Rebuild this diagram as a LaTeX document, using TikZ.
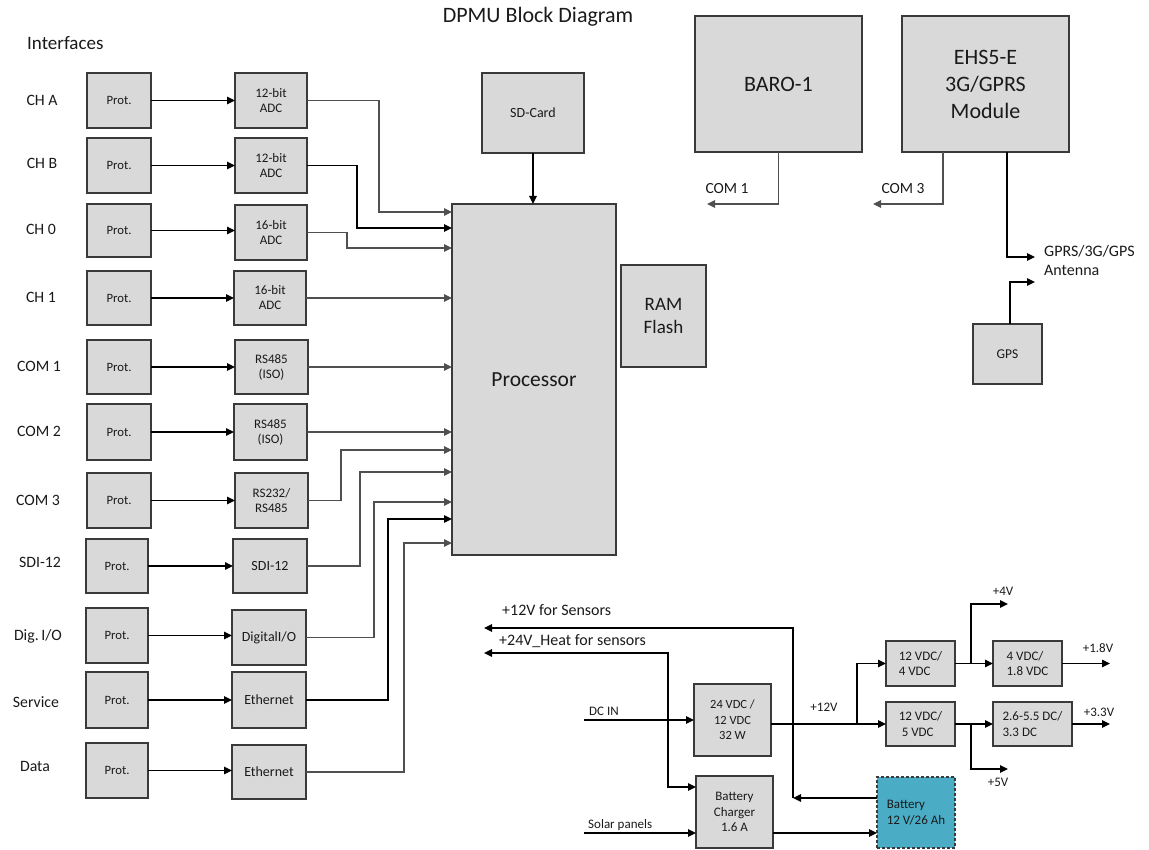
\documentclass[tikz,border=0pt]{standalone}
\usepackage{fontspec}
\setmainfont{Carlito}
\usetikzlibrary{arrows.meta}
\definecolor{boxfill}{HTML}{D9D9D9}
\definecolor{boxline}{HTML}{3A3A3A}
\definecolor{lgray}{HTML}{505050}
\definecolor{batt}{HTML}{4BACC6}
\definecolor{txt}{HTML}{1A1A1A}
\newcommand\fs[2]{\fontsize{#1}{#2}\selectfont}
\newcommand\mkbox[7][]{\node[boxst,#1,minimum width={(#5-#3)*1pt},minimum height={(#6-#4)*1pt}] (#2) at ({(#3+#5)/2},{(#4+#6)/2}) {#7};}
\begin{document}
\begin{tikzpicture}[x=1pt,y=-1pt,
  boxst/.style={draw=boxline,fill=boxfill,line width=1.3pt,inner sep=0pt,outer sep=0pt,text=txt,align=center},
  protst/.style={font=\fs{12.7}{15}},
  adcst/.style={font=\fs{13}{15}},
  ifst/.style={font=\fs{14}{16}},
  pwst/.style={font=\fs{13}{15.5}},
  lbl/.style={inner sep=0pt,text=txt,font=\fs{15.8}{18}},
  small/.style={inner sep=0pt,text=txt,font=\fs{13}{15}},
  arr/.style={-{Triangle[length=8pt,width=7.5pt]},line width=1.3pt,draw=black},
  garr/.style={arr,draw=lgray},
  barr/.style={{Triangle[length=8pt,width=7.5pt]}-{Triangle[length=8pt,width=7.5pt]},line width=1.3pt,draw=black}]
\useasboundingbox (0,0) rectangle (1149,850);

% titles
\node[inner sep=0pt,text=txt,font=\fs{22}{24}] (title) at (538,17) {DPMU Block Diagram};
\node[inner sep=0pt,text=txt,font=\fs{19}{21},anchor=west] (ifaces) at (27,43) {Interfaces};

% interface labels
\node[lbl] (lA) at (42,100) {CH A};
\node[lbl] (lB) at (42,163) {CH B};
\node[lbl] (l0) at (41,229) {CH 0};
\node[lbl] (l1) at (41,297) {CH 1};
\node[lbl] (lc1) at (39,366) {COM 1};
\node[lbl] (lc2) at (39,431) {COM 2};
\node[lbl] (lc3) at (38,500) {COM 3};
\node[lbl] (lsdi) at (40,562) {SDI-12};
\node[lbl] (ldig) at (38,636) {Dig.\,I/O};
\node[lbl] (lsvc) at (36,702) {Service};
\node[lbl] (ldat) at (35,766) {Data};

% protection boxes
\mkbox[protst]{pA}{87}{73}{151}{128}{Prot.}
\mkbox[protst]{pB}{87}{138}{151}{193}{Prot.}
\mkbox[protst]{p0}{87}{204}{151}{257}{Prot.}
\mkbox[protst]{p1}{87}{271}{151}{325}{Prot.}
\mkbox[protst]{pc1}{87}{340}{151}{394}{Prot.}
\mkbox[protst]{pc2}{87}{404}{151}{460}{Prot.}
\mkbox[protst]{pc3}{87}{473}{151}{528}{Prot.}
\mkbox[protst]{psdi}{86}{539}{148}{593}{Prot.}
\mkbox[protst]{pdig}{86}{608}{148}{663}{Prot.}
\mkbox[protst]{psvc}{86}{672}{148}{728}{Prot.}
\mkbox[protst]{pdat}{86}{743}{148}{798}{Prot.}

% interface circuits
\mkbox[adcst]{aA}{235}{73}{307}{128}{12-bit\\ADC}
\mkbox[adcst]{aB}{235}{138}{307}{193}{12-bit\\ADC}
\mkbox[adcst]{a0}{235}{205}{307}{260}{16-bit\\ADC}
\mkbox[adcst]{a1}{234}{271}{306}{325}{16-bit\\ADC}
\mkbox[adcst]{rc1}{235}{340}{308}{394}{RS485\\(ISO)}
\mkbox[adcst]{rc2}{234}{404}{307}{460}{RS485\\(ISO)}
\mkbox[adcst]{rc3}{235}{473}{308}{528}{RS232/\\RS485}
\mkbox[ifst]{sdi}{233}{539}{307}{593}{SDI-12}
\mkbox[ifst]{dig}{232}{610}{306}{665}{DigitalI/O}
\mkbox[ifst]{eth1}{232}{672}{306}{728}{Ethernet}
\mkbox[ifst]{eth2}{232}{745}{306}{799}{Ethernet}

% core
\mkbox[font=\fs{21.5}{24}]{proc}{452}{204}{616}{555}{Processor}
\mkbox[font=\fs{19}{22.5}]{ram}{621}{265}{706}{367}{RAM\\Flash}
\mkbox[font=\fs{14}{16}]{sd}{482}{73}{584}{153}{SD-Card}
\mkbox[font=\fs{22}{24}]{baro}{695}{16}{862}{152}{BARO-1}
\mkbox[font=\fs{22}{27}]{ehs}{902}{16}{1069}{152}{EHS5-E\\3G/GPRS\\Module}
\mkbox[font=\fs{13.5}{15}]{gps}{973}{324}{1042}{384}{GPS}

% prot -> circuit
\foreach \p/\a in {pA/aA,pB/aB,p0/a0,p1/a1,pc1/rc1,pc2/rc2,pc3/rc3,psdi/sdi,pdig/dig,psvc/eth1,pdat/eth2}
  \draw[arr] (\p.east) -- (\p.east -| \a.west);

% circuit -> processor
\draw[garr] (aA.east) -- ++(72,0) |- ([yshift=-8pt]proc.north west);
\draw[arr] (aB.east) -- ++(50,0) |- ([yshift=-24pt]proc.north west);
\draw[garr] (a0.east) -- ++(40,0) |- ([yshift=-44pt]proc.north west);
\draw[garr] (a1.east) -- (a1.east -| proc.west);
\draw[garr] (rc1.east) -- (rc1.east -| proc.west);
\draw[garr] (rc2.east) -- (rc2.east -| proc.west);
\draw[garr] (rc3.east) -- ++(33,0) |- ([yshift=-246pt]proc.north west);
\draw[garr] (sdi.east) -- ++(53,0) |- ([yshift=-268pt]proc.north west);
\draw[garr] (dig.east) -- ++(68,0) |- ([yshift=-298pt]proc.north west);
\draw[arr] (eth1.east) -- ++(82,0) |- ([yshift=-315pt]proc.north west);
\draw[garr] (eth2.east) -- ++(98,0) |- ([yshift=-339pt]proc.north west);
\draw[arr] (sd.south) -- (sd.south |- proc.north);

% top right
\coordinate (c1) at (707,204);
\coordinate (c3) at (873,204);
\coordinate (ant1) at (1035,257);
\coordinate (ant2) at (1035,282);
\draw[garr] (baro.south) |- (c1);
\draw[garr] ([xshift=41pt]ehs.south west) |- (c3);
\draw[arr] ([xshift=105pt]ehs.south west) |- (ant1);
\draw[arr] ([xshift=37pt]gps.north west) |- (ant2);
\node[small,font=\fs{15.5}{18}] (tc1) at (727,189) {COM 1};
\node[small,font=\fs{15.5}{18}] (tc3) at (903,189) {COM 3};
\node[small,font=\fs{16}{19},anchor=north west,align=left] (tant) at (1044,245) {GPRS/3G/GPS\\Antenna};

% power section
\mkbox[pwst,font=\fs{12.5}{15.5}]{conv}{694}{684}{771}{756}{24 VDC /\\12 VDC\\32 W}
\mkbox[pwst]{chg}{696}{776}{773}{848}{Battery\\Charger\\1.6 A}
\mkbox[pwst,fill=batt,dash pattern=on 3pt off 2pt,align=left]{bat}{877}{777}{955}{848}{Battery\\12 V/26 Ah}
\mkbox[pwst,align=left]{b4}{886}{641}{955}{686}{12 VDC/\\4 VDC}
\mkbox[pwst,align=left]{b5}{886}{702}{955}{746}{12 VDC/\\\hspace{3pt}5 VDC}
\mkbox[pwst,align=left]{b18}{993}{641}{1062}{686}{4 VDC/\\1.8 VDC}
\mkbox[pwst,align=left]{b33}{993}{702}{1072}{746}{2.6-5.5 DC/\\3.3 DC}

\coordinate (p12) at (484,628);
\coordinate (p24) at (484,653);
\coordinate (j1) at (793,798);
\coordinate (dcin) at (584,720);
\coordinate (sol) at (584,833);
\coordinate (v4) at (1008,604);
\coordinate (v5) at (1008,769);
\coordinate (v18) at (1110,663.5);
\coordinate (v33) at (1110,724);

\node[small,font=\fs{16}{18},anchor=west] (t12s) at (502,610) {+12V for Sensors};
\node[small,font=\fs{16}{18},anchor=west] (t24h) at (499,641) {+24V\_Heat for sensors};
\node[small,anchor=west] (tdc) at (589,711) {DC IN};
\node[small,anchor=west] (tsol) at (588,825) {Solar panels};
\node[small] (t12) at (824,707) {+12V};
\node[small] (t4) at (1003,591) {+4V};
\node[small] (t18) at (1098,648) {+1.8V};
\node[small] (t5) at (998,782) {+5V};
\node[small] (t33) at (1099,712) {+3.3V};

\draw[arr] ([yshift=-21pt]bat.north west) -- (j1);
\draw[arr] (j1) |- (p12);
\draw[barr] (p24) -- ++(184,0) |- ([yshift=-11pt]chg.north west);
\draw[arr] (dcin) -- (conv.west);
\draw[arr] (sol) -- (sol -| chg.west);
\draw[arr] ([yshift=-57pt]chg.north east) -- ([yshift=-56pt]bat.north west);
\draw[arr] (conv.east |- b5.west) -- (b5.west);
\draw[arr] (conv.east |- b5.west) -- ++(86,0) |- (b4.west);
\draw[arr] (b4.east) -- (b18.west);
\draw[arr] (b4.east) -- ++(16,0) |- (v4);
\draw[arr] (b18.east) -- (v18);
\draw[arr] (b5.east) -- (b33.west);
\draw[arr] (b5.east) -- ++(16,0) |- (v5);
\draw[arr] (b33.east) -- (v33);
\end{tikzpicture}
\end{document}
